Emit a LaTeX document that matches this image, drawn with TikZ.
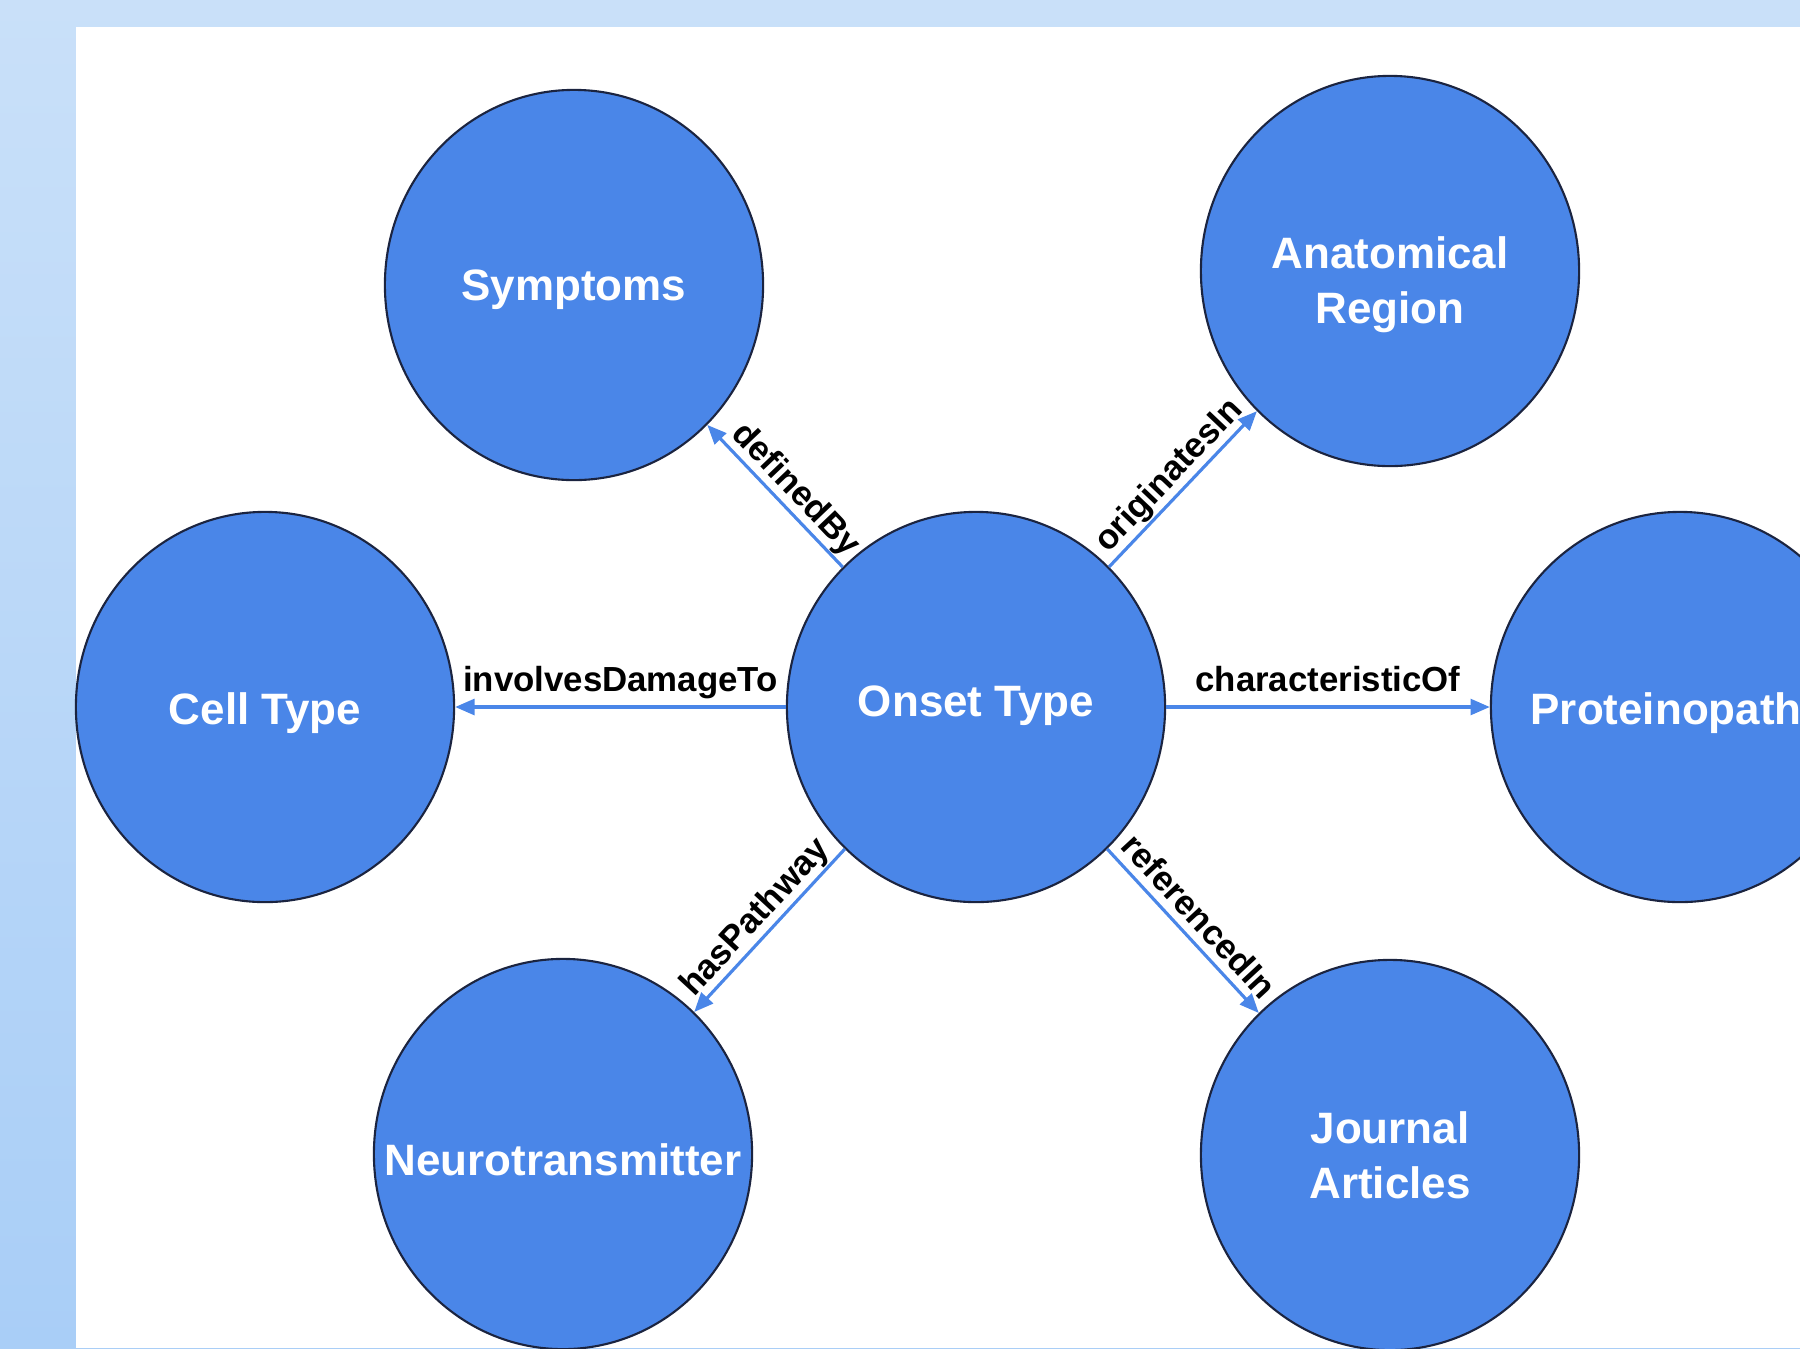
\documentclass[tikz,border=0pt]{standalone}
\usepackage{fontspec}
\setmainfont{Liberation Sans}
\usetikzlibrary{shapes.geometric,arrows.meta}
\definecolor{nodeblue}{HTML}{4A86E8}
\definecolor{bgtop}{HTML}{C9E0F9}
\definecolor{bgbot}{HTML}{A9CEF7}
\definecolor{rimcol}{HTML}{1B2440}
\tikzset{
  ent/.style={ellipse, draw=rimcol, line width=0.6pt, fill=nodeblue,
    minimum width=3.78cm, minimum height=3.9cm, inner sep=0pt},
  etxt/.style={text=white, font=\fontsize{12.5}{15.6}\selectfont\bfseries,
    align=center, inner sep=0pt},
  arr/.style={draw=nodeblue, line width=0.9pt, -{Triangle[length=5.5pt,width=4.5pt]}},
  elab/.style={font=\fontsize{9.9}{12}\selectfont\bfseries, text=black,
    sloped, above, midway, inner sep=1.5pt, text height=7.3pt, text depth=2.6pt},
  dlab/.style={elab, inner sep=0.3pt, text depth=2pt}
}
\begin{document}
\begin{tikzpicture}[x=0.01cm,y=-0.01cm]
\useasboundingbox (0,0) rectangle (1800,1348);
\clip (0,0) rectangle (1800,1348);
\shade[top color=bgtop, bottom color=bgbot] (0,0) rectangle (1800,1348);
\fill[white] (76,27) rectangle (1800,1348);

\node[ent, label={[etxt, yshift=-0.05cm]center:Symptoms}] (symp) at (574,285) {};
\node[ent, label={[etxt, yshift=-0.14cm]center:{Anatomical\\Region}}] (anat) at (1390,271) {};
\node[ent, label={[etxt, yshift=-0.06cm]center:Cell Type}] (cell) at (265,707) {};
\node[ent, label={[etxt, yshift=0.01cm]center:Onset Type}] (onset) at (976,707) {};
\node[ent, label={[etxt, anchor=west, yshift=-0.06cm]west:{\hspace{0.4cm}Proteinopathy}}] (prot) at (1680,707) {};
\node[ent, label={[etxt, yshift=-0.06cm]center:Neurotransmitter}] (neuro) at (563,1154) {};
\node[ent, label={[etxt]center:{Journal\\Articles}}] (jour) at (1390,1155) {};

\draw[arr] (onset) -- (symp) node[dlab, pos=0.45] {definedBy};
\draw[arr] (onset) -- (anat) node[dlab] {originatesIn};
\draw[arr] (onset) -- (cell) node[elab] {involvesDamageTo};
\draw[arr] (onset) -- (prot) node[elab] {characteristicOf};
\draw[arr] (onset) -- (neuro) node[dlab] {hasPathway};
\draw[arr] (onset) -- (jour) node[dlab] {referencedIn};
\end{tikzpicture}
\end{document}
